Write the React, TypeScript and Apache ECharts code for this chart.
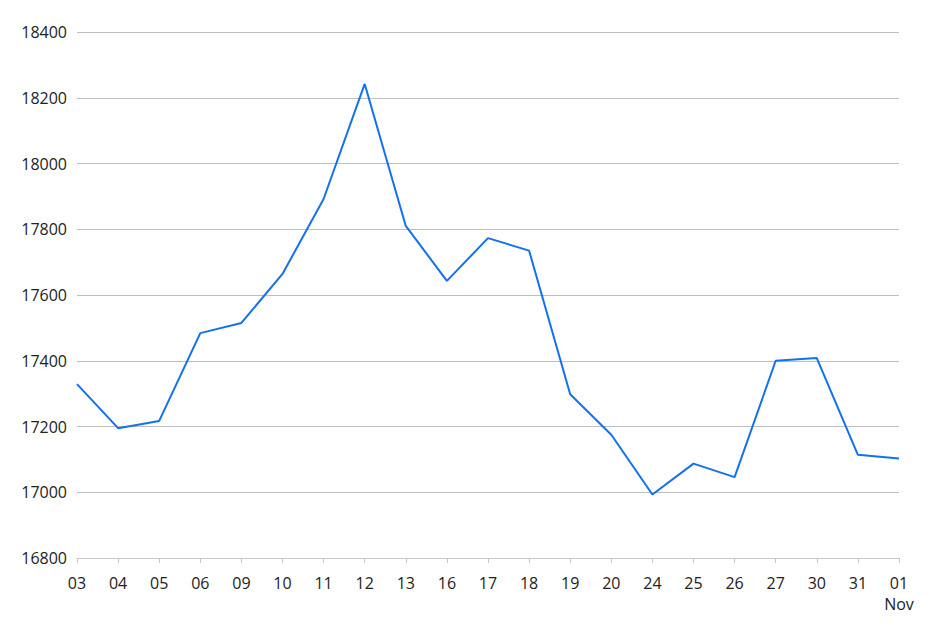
import React, { useEffect, useRef } from "react";
import * as echarts from "echarts";

const categories = ["03", "04", "05", "06", "09", "10", "11", "12", "13", "16", "17", "18", "19", "20", "24", "25", "26", "27", "30", "31", "01\nNov"];
const values = [17329, 17195, 17217, 17484, 17515, 17664, 17892, 18242, 17810, 17643, 17773, 17735, 17298, 17175, 16993, 17087, 17046, 17400, 17408, 17114, 17103];
const yTicks = { min: 16800, max: 18400, interval: 200 };

export default function App() {
  const ref = useRef<HTMLDivElement>(null);
  useEffect(() => {
    if (!ref.current) return;
    const chart = echarts.init(ref.current, undefined, { renderer: "svg" });
    const font = "'Open Sans', 'Noto Sans', sans-serif";
    chart.setOption({
      animation: false,
      grid: { left: 77, right: 45, top: 32, bottom: 83, containLabel: false },
      xAxis: {
        type: "category",
        data: categories,
        boundaryGap: false,
        axisLine: { lineStyle: { color: "#c8c8c8", width: 1 } },
        axisTick: { show: true, length: 5, lineStyle: { color: "#c8c8c8" }, alignWithLabel: true },
        axisLabel: { color: "#222222", fontSize: 16, fontFamily: font, margin: 14, lineHeight: 21, interval: 0 },
        splitLine: { show: false },
      },
      yAxis: {
        type: "value",
        min: yTicks.min,
        max: yTicks.max,
        interval: yTicks.interval,
        axisLine: { show: false },
        axisTick: { show: false },
        axisLabel: { color: "#222222", fontSize: 16, fontFamily: font, margin: 10, formatter: (v: number) => String(v) },
        splitLine: { lineStyle: { color: "#bdbdc2", width: 1 } },
      },
      series: [
        {
          type: "line",
          data: values,
          symbol: "none",
          lineStyle: { color: "#1271ee", width: 2 },
          itemStyle: { color: "#1271ee" },
        },
      ],
    });
    return () => chart.dispose();
  }, []);
  return <div ref={ref} style={{ width: 944, height: 641, position: "absolute", left: 0, top: 0, background: "#ffffff" }} />;
}
